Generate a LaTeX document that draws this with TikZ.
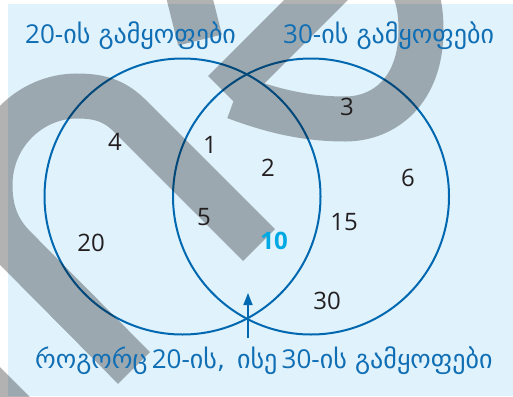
\documentclass[tikz,border=0pt]{standalone}
\usepackage{fontspec}
\setmainfont{Open Sans}
\newfontfamily\geofont{DejaVu Sans}
\usetikzlibrary{arrows.meta, positioning}

\definecolor{bgblue}{RGB}{224,242,251}
\definecolor{lineblue}{RGB}{0,104,176}
\definecolor{textblue}{RGB}{16,110,180}
\definecolor{tenblue}{RGB}{0,168,228}
\definecolor{numgray}{RGB}{35,31,32}

\begin{document}
\begin{tikzpicture}[x=1pt, y=-1pt,
    num/.style={font=\fontsize{24}{24}\selectfont, text=numgray, inner sep=0pt},
    setlabel/.style={font=\fontsize{26}{26}\selectfont, text=textblue, inner sep=0pt},
    setcircle/.style={draw=lineblue, line width=2pt, circle, minimum size=276pt, inner sep=0pt},
    wmark/.style={line width=45pt, black, opacity=0.3}]

        % Background
        \fill[white] (0,0) rectangle (513,396);
        \fill[bgblue] (8,4) rectangle (513,396);
        \useasboundingbox (0,0) rectangle (513,396);

        % Sets
        \node[setcircle] (lset) at (182.5,196.5) {};
        \node[setcircle] (rset) at (311,196.5) {};

        % Watermark
        \draw[wmark] (259,245) -- (130,116) .. controls (115,101) and (100,96) .. (77,96)
            .. controls (30,96) and (-10,135) .. (-10,185)
            .. controls (-10,215) and (0,233) .. (15,248) -- (134,368);
        \draw[wmark] (224,92) -- (330,-14) .. controls (355,-39) and (421,-60) .. (421,30)
            .. controls (421,90) and (385,119) .. (345,119)
            .. controls (300,119) and (265,108) .. (235,97);
        \draw[wmark] (185,-20) -- (200,40);
        \draw[wmark] (-30,369) -- (40,439);

        % Labels
        \node[setlabel, anchor=base west] (lab20) at (25,44) {20-{\geofont ის გამყოფები}};
        \node[setlabel, anchor=base west] (lab30) at (283,44) {30-{\geofont ის გამყოფები}};
        \node[setlabel, anchor=base west] (both) at (35,368)
            {{\geofont როგორც}\,20-{\geofont ის,\hspace{12pt}ისე}\,30-{\geofont ის გამყოფები}};

        % Divisors
        \node[num] (n4) at (115,142) {4};
        \node[num] (n20) at (91,243) {20};
        \node[num] (n1) at (210,145) {1};
        \node[num] (n2) at (268,168) {2};
        \node[num] (n5) at (204,217) {5};
        \node[num, text=tenblue, font=\fontsize{24}{24}\selectfont\bfseries] (n10) at (274,241) {10};
        \node[num] (n3) at (347,107) {3};
        \node[num] (n6) at (408,178) {6};
        \node[num] (n15) at (344,222) {15};
        \node[num] (n30) at (327,301) {30};

        % Common divisors
        \coordinate (tip) at (248,293);
        \draw[lineblue, line width=1.5pt, -{Triangle[length=12pt, width=9pt]}]
            ([yshift=8pt]both.north -| tip) -- (tip);
      \end{tikzpicture}
\end{document}
